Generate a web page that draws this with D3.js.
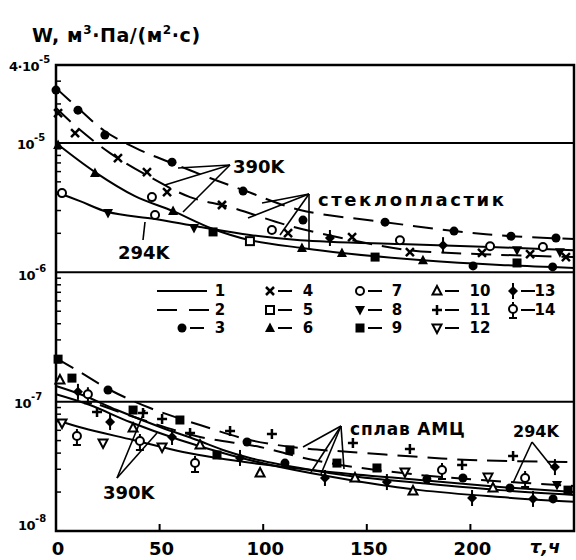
<!DOCTYPE html>
<html><head><meta charset="utf-8">
<script src="https://cdn.jsdelivr.net/npm/d3@7"></script>
<style>body{margin:0;background:#fff}svg{display:block}text{font-family:"DejaVu Sans",sans-serif;font-weight:bold;fill:#000}</style>
</head><body>
<script>
// ---- data ----
const xTickValues = [0, 50, 100, 150, 200];
const yTickValues = [4e-5, 1e-5, 1e-6, 1e-7, 1e-8];
const yTickBase = ["4·10", "10", "10", "10", "10"];
const yTickExp = ["-5", "-5", "-6", "-7", "-8"];
const gridValues = [1e-5, 1e-6, 1e-7];

// glass-fibre plastic (стеклопластик) curves: [τ, W]
const glassDash390a = [[0,2.65e-5],[10.6,1.86e-5],[23.6,1.23e-5],[40.5,8.8e-6],[56,6.98e-6],[74.3,5.35e-6],[90.3,4.32e-6],[117.8,3.03e-6],[158.8,2.44e-6],[192.1,2.08e-6],[219.6,1.9e-6],[250,1.81e-6]];
const glassDash390b = [[0,1.86e-5],[10.6,1.3e-5],[26.1,8.34e-6],[45.4,5.44e-6],[64.7,3.81e-6],[84,3.19e-6],[112.9,2.28e-6],[142.9,1.77e-6],[170.8,1.48e-6],[205.6,1.38e-6],[250,1.31e-6]];
const glassSolid390 = [[0,9.97e-6],[18.8,5.95e-6],[38.1,3.88e-6],[56.5,2.97e-6],[75.8,2.16e-6],[93.6,1.77e-6],[118.7,1.54e-6],[138,1.41e-6],[177.1,1.24e-6],[214.3,1.14e-6],[250,1.08e-6]];
const glassSolid294 = [[0,4.17e-6],[11.6,3.55e-6],[25.1,2.92e-6],[47.8,2.58e-6],[69.5,2.24e-6],[93.6,1.94e-6],[117.8,1.77e-6],[166,1.65e-6],[209.5,1.57e-6],[250,1.48e-6]];
// aluminium alloy (сплав АМЦ) curves
const alloyDash390 = [[0,2.17e-7],[11.6,1.69e-7],[26.1,1.23e-7],[45.4,8.92e-8],[69.5,6.59e-8],[93.6,5.05e-8],[117.8,4.38e-8],[142,4.08e-8],[175.7,3.73e-8],[199.8,3.54e-8],[250,3.41e-8]];
const alloyDash294 = [[21.2,9.41e-8],[42,7.21e-8],[69.5,5.33e-8],[98.5,4.46e-8],[117.8,3.73e-8],[137.1,3.24e-8],[175.7,2.71e-8],[204.6,2.48e-8],[250,2.23e-8]];
const alloySolid390a = [[0,1.32e-7],[13,1.12e-7],[29.4,8.61e-8],[50.2,6.37e-8],[68,5.05e-8],[80.6,4.23e-8],[93.6,3.67e-8],[117.8,3.07e-8],[141.9,2.66e-8],[175.7,2.35e-8],[214.3,2.07e-8],[250,1.9e-8]];
const alloySolid390b = [[0,1.14e-7],[16.4,9.41e-8],[35.7,6.96e-8],[59.8,5.05e-8],[84,3.87e-8],[108.1,3.12e-8],[141.9,2.48e-8],[175.7,2.07e-8],[214.3,1.83e-8],[250,1.68e-8]];
const alloySolid294 = [[0,7.21e-8],[13,6.25e-8],[37.2,5.05e-8],[61.3,4.08e-8],[77.7,3.67e-8],[98.5,3.3e-8],[132.2,2.86e-8],[175.7,2.48e-8],[214.3,2.19e-8],[250,2.0e-8]];

// measured points by legend symbol number
const pts3 = [[0,2.56e-5],[10.6,1.79e-5],[23.6,1.15e-5],[56,7.1e-6],[90.3,4.24e-6],[119.2,2.53e-6],[158.8,2.44e-6],[192.1,2.08e-6],[219.6,1.9e-6],[241.3,1.84e-6],[201.3,1.12e-6],[239.7,1.1e-6],
  [25.1,1.23e-7],[92.2,4.87e-8],[110.5,3.35e-8],[179,2.52e-8],[196.4,2.57e-8],[219.1,2.15e-8],[239.9,1.77e-8]];
const pts4 = [[1,1.7e-5],[9.2,1.19e-5],[29.9,7.63e-6],[43.9,5.95e-6],[53.6,4.17e-6],[80.1,3.31e-6],[112,2.01e-6],[142.9,1.87e-6],[170.8,1.43e-6],[205.6,1.41e-6],[228.8,1.38e-6],[246.1,1.31e-6]];
const pts5 = [[93.6,1.74e-6]];
const pts6 = [[1,9.62e-6],[18.8,5.84e-6],[56.5,2.97e-6],[118.7,1.54e-6],[138,1.41e-6],[177.1,1.24e-6]];
const pts7 = [[2.9,4.09e-6],[46.3,3.81e-6],[47.8,2.77e-6],[104.2,2.12e-6],[166,1.77e-6],[209.5,1.59e-6],[235,1.57e-6]];
const pts8 = [[25.1,2.87e-6],[66.6,2.2e-6],[222.5,1.48e-6],[243.2,1.43e-6],[241.8,2.27e-8]];
const pts9 = [[75.8,2.05e-6],[154,1.31e-6],[222.5,1.18e-6],
  [1,2.13e-7],[7.7,1.52e-7],[37.2,8.61e-8],[59.8,7.21e-8],[77.7,3.87e-8],[112.9,4.23e-8],[135.6,3.35e-8],[154.9,3.07e-8],[247.1,2.07e-8]];
const pts10 = [[1.9,1.47e-7],[37.2,6.25e-8],[69.5,4.62e-8],[98.5,2.81e-8],[144.3,2.57e-8],[172.3,2.04e-8],[210.9,2.15e-8]];
const pts11 = [[19.8,8.31e-8],[42,8.16e-8],[51.2,7.34e-8],[64.7,5.72e-8],[84,5.93e-8],[104.2,5.62e-8],[143.3,4.79e-8],[170.8,4.3e-8],[196,3.24e-8],[220.6,3.8e-8]];
const pts12 = [[2.9,6.83e-8],[22.7,4.79e-8],[51.2,4.46e-8],[168.4,2.86e-8],[208.5,2.61e-8]];
const pts13 = [[132.2,1.84e-6],[186.8,1.62e-6],
  [10.6,1.19e-7],[26.1,6.96e-8],[56,5.33e-8],[88.8,3.67e-8],[129.8,2.57e-8],[159.7,2.39e-8],[200.8,1.8e-8],[230.2,1.77e-8],[240.8,3.12e-8]];
const pts14 = [[10.1,5.33e-8],[15.4,1.12e-7],[40.5,4.87e-8],[67.1,3.3e-8],[186.3,2.91e-8],[226.4,2.52e-8]];

const legendNumbers = [[1,4,7,10,13],[2,5,8,11,14],[3,6,9,12]];

// ---- drawing ----
const W = 576, H = 560;
const svg = d3.select("body").append("svg").attr("width", W).attr("height", H);
const x = d3.scaleLinear().domain([0, 250]).range([56, 574]);
const y = d3.scaleLog().domain([1e-8, 4e-5]).range([531, 65]);

const g = svg.append("g");
// frame
g.append("rect").attr("x", x(0)).attr("y", y(4e-5)).attr("width", x(250) - x(0)).attr("height", y(1e-8) - y(4e-5))
  .attr("fill", "none").attr("stroke", "#000").attr("stroke-width", 2.5);
// horizontal decade lines
g.selectAll("line.grid").data(gridValues).join("line").attr("class", "grid")
  .attr("x1", x(0)).attr("x2", x(250)).attr("y1", d => y(d)).attr("y2", d => y(d))
  .attr("stroke", "#000").attr("stroke-width", 2);

// y minor ticks (inside)
const minor = [];
[-8, -7, -6, -5].forEach(e => { for (let m = 2; m <= 9; m++) { const v = m * Math.pow(10, e); if (v < 4e-5) minor.push(v); } });
g.selectAll("line.ym").data(minor).join("line").attr("class", "ym")
  .attr("x1", x(0)).attr("x2", x(0) + 5).attr("y1", d => y(d)).attr("y2", d => y(d))
  .attr("stroke", "#000").attr("stroke-width", 1.5);
// x ticks (inside)
g.selectAll("line.xt").data(xTickValues.slice(1)).join("line").attr("class", "xt")
  .attr("x1", d => x(d)).attr("x2", d => x(d)).attr("y1", y(1e-8)).attr("y2", y(1e-8) - 7)
  .attr("stroke", "#000").attr("stroke-width", 2);

// x tick labels
g.selectAll("text.xl").data(xTickValues).join("text").attr("class", "xl")
  .attr("x", d => x(d) + 2).attr("y", 555).attr("text-anchor", "middle").attr("font-size", 18).text(d => d);
svg.append("text").attr("x", 545).attr("y", 553).attr("text-anchor", "middle").attr("font-size", 18)
  .attr("font-style", "italic").text("τ,ч");

// y tick labels
const yLabelX = [9, 17, 18, 14, 18];
const yLabelDy = [6, 6, 8, 6, -1];
yTickValues.forEach((v, i) => {
  const t = svg.append("text").attr("x", yLabelX[i]).attr("y", y(v) + yLabelDy[i]).attr("font-size", 13).attr("letter-spacing", -0.5);
  t.append("tspan").text(yTickBase[i]);
  t.append("tspan").attr("dy", -8).attr("font-size", 10).attr("letter-spacing", 0).text(yTickExp[i]);
});

// title
const tt = svg.append("text").attr("x", 32).attr("y", 42).attr("font-size", 19).attr("letter-spacing", 0.6);
tt.append("tspan").text("W, м");
tt.append("tspan").attr("dy", -8).attr("font-size", 12).text("3");
tt.append("tspan").attr("dy", 8).text("·Па/(м");
tt.append("tspan").attr("dy", -8).attr("font-size", 12).text("2");
tt.append("tspan").attr("dy", 8).text("·с)");

// curves
const line = d3.line().x(d => x(d[0])).y(d => y(d[1])).curve(d3.curveCatmullRom.alpha(0.5));
const curves = [
  [glassDash390a, true], [glassDash390b, true], [glassSolid390, false], [glassSolid294, false],
  [alloyDash390, true], [alloyDash294, true], [alloySolid390a, false], [alloySolid390b, false], [alloySolid294, false]
];
curves.forEach(([data, dashed]) => {
  g.append("path").datum(data).attr("d", line).attr("fill", "none").attr("stroke", "#000")
    .attr("stroke-width", 2).attr("stroke-dasharray", dashed ? "20,10" : null);
});

// markers
function marker(sel, type, cx, cy) {
  const k = sel.append("g").attr("transform", `translate(${cx},${cy})`);
  const s = "#000";
  switch (type) {
    case 3: k.append("circle").attr("r", 4.5).attr("fill", s); break;
    case 4: k.append("path").attr("d", "M-4,-4L4,4M-4,4L4,-4").attr("stroke", s).attr("stroke-width", 2.5); break;
    case 5: k.append("rect").attr("x", -4).attr("y", -4).attr("width", 8).attr("height", 8).attr("fill", "#fff").attr("stroke", s).attr("stroke-width", 2); break;
    case 6: k.append("path").attr("d", "M0,-5.5L5,4L-5,4Z").attr("fill", s); break;
    case 7: k.append("circle").attr("r", 4).attr("fill", "#fff").attr("stroke", s).attr("stroke-width", 2); break;
    case 8: k.append("path").attr("d", "M0,5.5L5,-4L-5,-4Z").attr("fill", s); break;
    case 9: k.append("rect").attr("x", -4.5).attr("y", -4.5).attr("width", 9).attr("height", 9).attr("fill", s); break;
    case 10: k.append("path").attr("d", "M0,-5L4.5,3.5L-4.5,3.5Z").attr("fill", "#fff").attr("stroke", s).attr("stroke-width", 2); break;
    case 11: k.append("path").attr("d", "M-5,0L5,0M0,-5L0,5").attr("stroke", s).attr("stroke-width", 2.5); break;
    case 12: k.append("path").attr("d", "M0,5L4.5,-3.5L-4.5,-3.5Z").attr("fill", "#fff").attr("stroke", s).attr("stroke-width", 2); break;
    case 13:
      k.append("path").attr("d", "M0,-8L0,8").attr("stroke", s).attr("stroke-width", 2);
      k.append("path").attr("d", "M0,-5L5,0L0,5L-5,0Z").attr("fill", s); break;
    case 14:
      k.append("path").attr("d", "M0,-8L0,8M-4,8L4,8").attr("stroke", s).attr("stroke-width", 2);
      k.append("circle").attr("r", 4).attr("cy", -1).attr("fill", "#fff").attr("stroke", s).attr("stroke-width", 2); break;
  }
}
const ptSets = {3: pts3, 4: pts4, 5: pts5, 6: pts6, 7: pts7, 8: pts8, 9: pts9, 10: pts10, 11: pts11, 12: pts12, 13: pts13, 14: pts14};
const mk = g.append("g");
Object.keys(ptSets).forEach(t => ptSets[t].forEach(d => marker(mk, +t, x(d[0]), y(d[1]))));

// annotations (leader lines)
const ann = svg.append("g").attr("stroke", "#000").attr("stroke-width", 1.6).attr("fill", "none");
function leaders(ax, ay, ends) { ends.forEach(e => ann.append("line").attr("x1", ax).attr("y1", ay).attr("x2", e[0]).attr("y2", e[1])); }
leaders(230, 165, [[178, 168], [165, 185], [183, 212]]);
leaders(309, 194, [[262, 203], [248, 218], [280, 235], [309, 248]]);
leaders(143, 240, [[145, 222]]);
leaders(341, 426, [[303, 447], [311, 472], [321, 474], [344, 469]]);
leaders(532, 442, [[513, 483], [552, 467]]);
leaders(117, 478, [[145, 410], [157, 433]]);

const lab = (tx, ty, s, fs, ls) => svg.append("text").attr("x", tx).attr("y", ty).attr("font-size", fs).attr("letter-spacing", ls || 0).text(s);
lab(233, 173, "390K", 18);
lab(318, 206, "стеклопластик", 18, 2.6);
lab(118, 259, "294K", 18);
lab(350, 435, "сплав АМЦ", 17, 0.8);
lab(513, 437, "294K", 16);
lab(103, 499, "390K", 18);

// legend
const legCols = [[157, 220], [270, 308], [360, 397], [437, 480], [513, 545]];
const legRows = [291, 310, 328];
legendNumbers.forEach((row, ri) => row.forEach((n, ci) => {
  const [mx, nx] = legCols[ci];
  const yy = legRows[ri];
  if (n === 1) {
    svg.append("line").attr("x1", 157).attr("x2", 207).attr("y1", yy).attr("y2", yy).attr("stroke", "#000").attr("stroke-width", 2);
  } else if (n === 2) {
    svg.append("line").attr("x1", 157).attr("x2", 210).attr("y1", yy).attr("y2", yy).attr("stroke", "#000").attr("stroke-width", 2).attr("stroke-dasharray", "20,12");
  } else {
    const mxx = n === 3 ? 182 : mx;
    marker(svg, n, mxx, yy);
    svg.append("line").attr("x1", mxx + 8).attr("x2", mxx + 22).attr("y1", yy).attr("y2", yy).attr("stroke", "#000").attr("stroke-width", 2);
  }
  svg.append("text").attr("x", nx).attr("y", yy + 5).attr("text-anchor", "middle").attr("font-size", 15).text(n);
}));
</script>
</body></html>
